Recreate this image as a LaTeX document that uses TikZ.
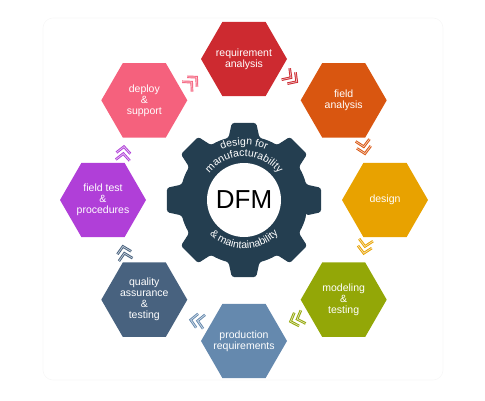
\documentclass[tikz,border=0pt]{standalone}
\usepackage{fontspec}
\setmainfont{Liberation Sans}
\usetikzlibrary{decorations.text,calc}
\definecolor{reqc}{HTML}{CD2A30}
\definecolor{fldc}{HTML}{D95610}
\definecolor{desc}{HTML}{E8A200}
\definecolor{modc}{HTML}{93A707}
\definecolor{proc}{HTML}{6589AE}
\definecolor{qac}{HTML}{48627F}
\definecolor{ftc}{HTML}{B03FD8}
\definecolor{depc}{HTML}{F5617D}
\definecolor{gearc}{HTML}{243E50}
\tikzset{
  hexa/.style={circle, minimum size=74pt, inner sep=0pt, text=white, align=center,
    font=\fontsize{10.5}{11}\selectfont},
  pics/chev/.style={code={
    \foreach \d in {-3.5,3.5}{
      \draw[line width=2.6pt, #1, line join=miter] ({\d-6.5},7) -- (\d,0) -- ({\d-6.5},-7);
      \draw[line width=0.7pt, #1!30!white] ({\d-6.5},7) -- (\d,0) -- ({\d-6.5},-7);
    }}},
  arctext/.style={decorate, decoration={text along path, text align=center, text color=white}}
}
\newcommand\hexat[4]{%
  \fill[#3] ($(gc)+(#2:141)+(-43,0)$) -- ++(60:43) -- ++(43,0) -- ++(-60:43)
     -- ++(-120:43) -- ++(-43,0) -- cycle;
  \node[hexa] (#1) at ($(gc)+(#2:141)$) {#4};}
\begin{document}
\begin{tikzpicture}[x=1pt,y=1pt]
\useasboundingbox (0,0) rectangle (485,400);
\draw[black!3, line width=0.6pt, rounded corners=10pt] (43,20) rectangle (443,382);
% gear
\coordinate (gc) at (244,200);
\begin{scope}[shift={(gc)}]
\fill[gearc, rounded corners=2.5pt] (-14:64)
  \foreach \a in {0,45,...,315}{ -- ({\a-9}:78) -- ({\a+9}:78) -- ({\a+14}:64)
     arc[start angle={\a+14}, end angle={\a+31}, radius=64] } -- cycle;
\path[arctext, decoration={text={|\fontsize{10.5}{10}\selectfont|design for}}]
  (125:55) arc[start angle=125, end angle=55, radius=55];
\path[arctext, decoration={text={|\fontsize{10.5}{10}\selectfont|manufacturability}}]
  (165:43.5) arc[start angle=165, end angle=15, radius=43.5];
\path[arctext, decoration={text={|\fontsize{10.5}{10}\selectfont|{\&} maintainability}}]
  (210:48.5) arc[start angle=210, end angle=330, radius=48.5];
\end{scope}
\node[circle, fill=white, minimum size=74pt, inner sep=0pt, font=\fontsize{26}{26}\selectfont, text=black] (g) at (gc) {DFM};
% hexagons
\hexat{req}{90}{reqc}{requirement\\analysis}
\hexat{fld}{45}{fldc}{field\\analysis}
\hexat{des}{0}{desc}{design}
\hexat{mod}{-45}{modc}{modeling\\\&\\testing}
\hexat{pro}{-90}{proc}{production\\requirements}
\hexat{qa}{-135}{qac}{quality\\assurance\\\&\\testing}
\hexat{ft}{180}{ftc}{field test\\\&\\procedures}
\hexat{dep}{135}{depc}{deploy\\\&\\support}
% chevrons
\pic[rotate=45] at ($(dep)!0.5!(req)$) {chev=depc};
\pic[rotate=-35] at ($(req)!0.5!(fld)$) {chev=reqc};
\pic[rotate=-80] at ($(fld)!0.5!(des)$) {chev=fldc};
\pic[rotate=-100] at ($(des)!0.5!(mod)$) {chev=desc};
\pic[rotate=200] at ($(mod)!0.5!(pro)$) {chev=modc};
\pic[rotate=172] at ($(pro)!0.5!(qa)$) {chev=proc};
\pic[rotate=102] at ($(qa)!0.5!(ft)$) {chev=qac};
\pic[rotate=85] at ($(ft)!0.5!(dep)$) {chev=ftc};
\end{tikzpicture}
\end{document}
